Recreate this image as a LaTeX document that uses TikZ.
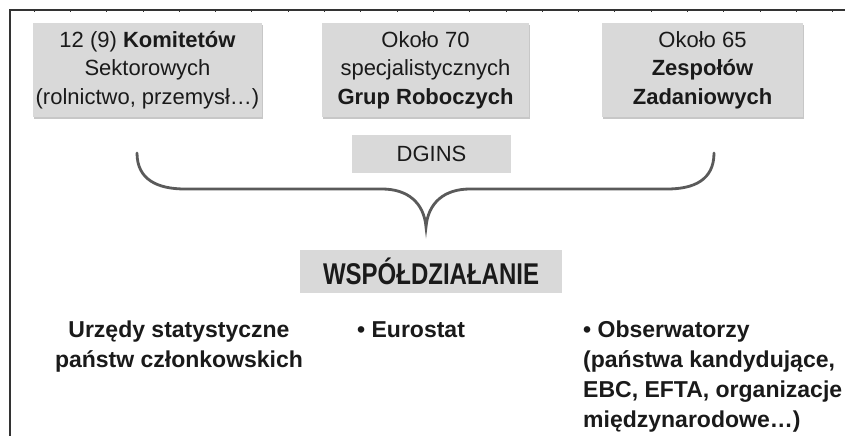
\documentclass[tikz,border=0pt]{standalone}
\usepackage{fontspec}
\setmainfont{Liberation Sans}
\newfontfamily\narrowbold[FakeStretch=0.8]{Liberation Sans Bold}
\usetikzlibrary{shadows}
\definecolor{boxgrey}{HTML}{D9D9D9}
\definecolor{textdark}{HTML}{1A1A1A}
\definecolor{bracegrey}{HTML}{5A5A5A}
\definecolor{framegrey}{HTML}{333333}
\begin{document}
\begin{tikzpicture}[x=1pt,y=-1pt,
  greybox/.style={fill=boxgrey, draw=none, inner sep=0pt, align=center, text=textdark,
    font=\fontsize{22}{28.5}\selectfont},
  shadowbox/.style={greybox, drop shadow={shadow xshift=1.2pt, shadow yshift=-2.2pt, fill=black, opacity=0.22}},
  bottomtext/.style={inner sep=0pt, text=textdark, font=\bfseries\fontsize{23}{30}\selectfont},
  bracepath/.style={draw=bracegrey, line width=2.8pt, line cap=round},
  framepath/.style={draw=framegrey, line width=1.4pt}]
\useasboundingbox (0,0) rectangle (845,436);
\fill[white] (0,0) rectangle (845,436);
% frame
\coordinate (fcorner) at (10,10);
\coordinate (fright) at (845,10);
\coordinate (fbottom) at (10,436);
\draw[framepath] (fright) -- (fcorner) -- (fbottom);
\foreach \k in {0,...,22}{
  \draw[framegrey, line width=0.8pt] ({34+36.3*\k},10) -- ({34+36.3*\k},12.5);
}
% top boxes
\node[shadowbox, minimum width=229pt, minimum height=94pt] (kom) at (147.5,70)
  {12 (9) \textbf{Komitetów}\\Sektorowych\\(rolnictwo, przemysł\dots)};
\node[shadowbox, minimum width=207pt, minimum height=94pt] (grp) at (425.5,70)
  {Około 70\\specjalistycznych\\\textbf{Grup Roboczych}};
\node[shadowbox, minimum width=201pt, minimum height=94pt] (zesp) at (702.5,70)
  {Około 65\\\textbf{Zespołów}\\\textbf{Zadaniowych}};
% DGINS
\node[greybox, minimum width=159pt, minimum height=38pt] (dgins) at (431.5,154) {DGINS};
% brace
\coordinate (bl) at (137,153);
\coordinate (br) at (714,153);
\coordinate (btip) at (426,227);
\draw[bracepath] (bl) .. controls (137,180) and (158,189) .. (185,189)
  -- (382,189) .. controls (408,189) and (424,203) .. (btip)
  .. controls (428,203) and (444,189) .. (470,189)
  -- (667,189) .. controls (694,189) and (714,180) .. (br);
% cooperation box
\node[greybox, minimum width=262pt, minimum height=43pt, font=\narrowbold\fontsize{30}{32}\selectfont] (wsp) at (431,271.5) {WSPÓŁDZIAŁANIE};
% bottom texts
\node[bottomtext, align=center, anchor=north] (urz) at (179,321)
  {Urzędy statystyczne\\państw członkowskich};
\node[bottomtext, align=left, anchor=north west] (euro) at (357,321) {• Eurostat};
\node[bottomtext, align=left, anchor=north west] (obs) at (583,321)
  {• Obserwatorzy\\(państwa kandydujące,\\EBC, EFTA, organizacje\\międzynarodowe\dots)};
\end{tikzpicture}
\end{document}
